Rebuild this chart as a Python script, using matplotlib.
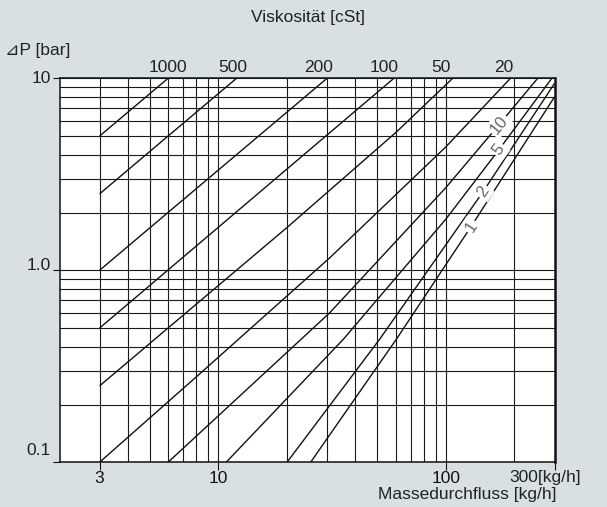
import numpy as np
import matplotlib
matplotlib.use("Agg")
import matplotlib.pyplot as plt
from matplotlib.ticker import FixedLocator, NullFormatter
from matplotlib.transforms import blended_transform_factory

plt.rcParams['font.family'] = ['Liberation Sans', 'DejaVu Sans']

# ---- data ----
viscosities = ["1000", "500", "200", "100", "50", "20", "10", "5", "2", "1"]

x_1000 = [3, 6];            y_1000 = [5.0, 10]
x_500 = [3, 12];            y_500 = [2.5, 10]
x_200 = [3, 30];            y_200 = [1.0, 10]
x_100 = [3, 59];            y_100 = [0.5, 10]
x_50 = [3, 20, 60, 107];    y_50 = [0.25, 1.67, 5.2, 10]
x_20 = [3, 8.3, 30.8, 100, 192];   y_20 = [0.1, 0.29, 1.16, 4.4, 10]
x_10 = [6, 30.8, 100, 171, 253];   y_10 = [0.1, 0.6, 2.7, 5.73, 10]
x_5 = [10.8, 35.3, 100, 171, 292]; y_5 = [0.1, 0.436, 1.85, 4.25, 10]
x_2 = [20, 51, 145.7, 300];        y_2 = [0.1, 0.436, 2.57, 9.4]
x_1 = [25.4, 60.4, 129, 300];      y_1 = [0.1, 0.436, 1.69, 8.0]

curves_x = [x_1000, x_500, x_200, x_100, x_50, x_20, x_10, x_5, x_2, x_1]
curves_y = [y_1000, y_500, y_200, y_100, y_50, y_20, y_10, y_5, y_2, y_1]

x_major = [3, 10, 100]
x_major_labels = ["3", "10", "100"]
x_minor = [4, 5, 6, 7, 8, 9, 20, 30, 40, 50, 60, 70, 80, 90, 200]
y_major = [0.1, 1, 10]
y_major_labels = ["0.1", "1.0", "10"]
y_minor = [0.2, 0.3, 0.4, 0.5, 0.6, 0.7, 0.8, 0.9, 2, 3, 4, 5, 6, 7, 8, 9]

# ---- figure ----
bg = "#d9e0e4"
fig = plt.figure(figsize=(6.07, 5.07), dpi=100, facecolor=bg)
W, H = 607, 507
left, right, top, bottom = 59.5, 554.5, 78.3, 462.3
ax = fig.add_axes([left / W, 1 - bottom / H, (right - left) / W, (bottom - top) / H])
ax.set_facecolor("white")
ax.set_xscale("log")
ax.set_yscale("log")
ax.set_xlim(2, 300)
ax.set_ylim(0.1, 10)

gcol = "#1a1a1a"
for xv in x_major + x_minor:
    ax.axvline(xv, color=gcol, lw=0.8, zorder=1)
for yv in y_major + y_minor:
    ax.axhline(yv, color=gcol, lw=0.8, zorder=1)

for s in ax.spines.values():
    s.set_color("#111111")
    s.set_linewidth(1.1)
ax.spines['right'].set_linewidth(1.8)

ax.xaxis.set_major_locator(FixedLocator(x_major + [300]))
ax.xaxis.set_minor_locator(FixedLocator([]))
ax.set_xticklabels(x_major_labels + [""])
ax.yaxis.set_major_locator(FixedLocator(y_major))
ax.yaxis.set_minor_locator(FixedLocator([]))
ax.yaxis.set_major_formatter(NullFormatter())
ax.yaxis.set_minor_formatter(NullFormatter())
ax.xaxis.set_minor_formatter(NullFormatter())
ax.tick_params(axis='x', which='major', length=5.5, width=0.8, pad=0.5,
               labelsize=12.5, colors="#111111")
ax.tick_params(axis='y', which='major', length=5, width=0.8, colors="#111111")

# y tick labels (placed like the reference)
ytr = blended_transform_factory(ax.transAxes, ax.transData)
ylab_shift = {10: (1.0, "center"), 1: (1.005, "baseline"), 0.1: (1.087, "baseline")}
for yv, lab in zip(y_major, y_major_labels):
    fac, va = ylab_shift[yv]
    ax.text(-0.018, yv * fac, lab, transform=ytr,
            ha="right", va=va, fontsize=12.5, color="#222222")

# 300[kg/h] label
xtr = blended_transform_factory(ax.transData, ax.transAxes)
ax.text(274, -0.021, "300[kg/h]", transform=xtr, ha="center", va="top",
        fontsize=12.5, color="#222222")

# curves
for cx, cy in zip(curves_x, curves_y):
    ax.plot(cx, cy, color="#111111", lw=1.0, zorder=3, solid_capstyle="butt")

# labels along low-viscosity lines
along_labels = {"10": (171, 5.73), "5": (171, 4.25), "2": (145.7, 2.57), "1": (129, 1.69)}
for name, (lx, ly) in along_labels.items():
    i = viscosities.index(name)
    cx, cy = np.log10(curves_x[i]), np.log10(curves_y[i])
    lxl = np.log10(lx)
    x0, x1 = lxl - 0.05, lxl + 0.05
    y0, y1 = np.interp([x0, x1], cx, cy)
    p0 = ax.transData.transform((10 ** x0, 10 ** y0))
    p1 = ax.transData.transform((10 ** x1, 10 ** y1))
    ang = np.degrees(np.arctan2(p1[1] - p0[1], p1[0] - p0[0]))
    ax.text(lx, ly, name, rotation=ang, rotation_mode="anchor", ha="center", va="center",
            fontsize=12, color="#666666", zorder=5,
            bbox=dict(boxstyle="square,pad=0.12", fc="white", ec="none"))

# viscosity labels above the plot
top_label_x = [5.99, 11.5, 27.6, 53.7, 95.4, 180]
for name, tx in zip(viscosities[:6], top_label_x):
    ax.text(tx, 1.0 + 6.5 / (bottom - top), name, transform=xtr, ha="center",
            va="baseline", fontsize=12.5, color="#222222")

fig.text(308 / W, 1 - 17.5 / H, "Viskosität [cSt]", ha="center", va="center",
         fontsize=12.5, color="#222222")
fig.text(5 / W, 1 - 50 / H, "\u22bfP [bar]", ha="left", va="center",
         fontsize=12.5, color="#222222")
fig.text(557 / W, 1 - 494 / H, "Massedurchfluss [kg/h]", ha="right", va="center",
         fontsize=12.5, color="#222222")

fig.savefig("out.png", dpi=100, facecolor=bg)
